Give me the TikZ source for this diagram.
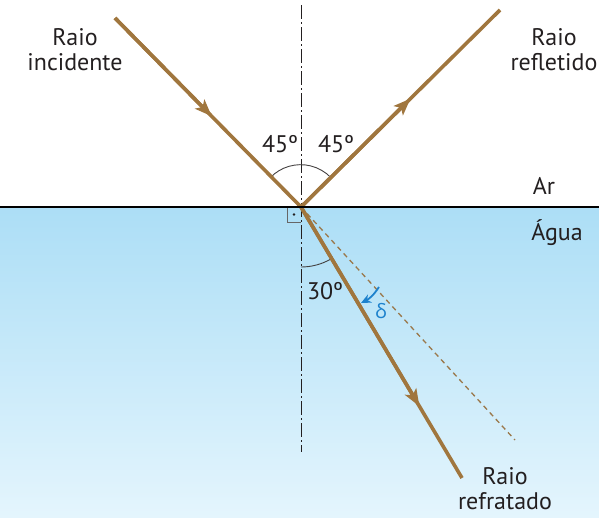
\documentclass[tikz,border=0pt]{standalone}
\usepackage{fontspec}
\setmainfont{PT Sans}
\newfontfamily\grk{Open Sans}
\usetikzlibrary{arrows.meta,calc}
\definecolor{ray}{RGB}{160,118,62}
\definecolor{txt}{RGB}{35,31,32}
\definecolor{wtop}{RGB}{172,222,246}
\definecolor{wbot}{RGB}{228,245,253}
\definecolor{dblue}{RGB}{30,130,205}
\tikzset{
  raylin/.style={draw=ray,line width=3.6pt},
  midarrow/.style={-{Stealth[length=17pt,width=13pt,inset=4pt]},draw=ray,line width=3.6pt},
  lbl/.style={text=txt,font=\fontsize{24}{25}\selectfont,align=center,inner sep=0pt},
  anglbl/.style={text=txt,font=\fontsize{24}{25}\selectfont,inner sep=0pt},
  arcst/.style={draw=txt!85,line width=0.9pt},
}
\begin{document}
\begin{tikzpicture}[x=1pt,y=-1pt]
\useasboundingbox (0,0) rectangle (599,517);
\shade[top color=wtop,bottom color=wbot] (0,207) rectangle (599,517);
% coordinates
\coordinate (O) at (301,207);
\coordinate (I) at (115,18);
\coordinate (R) at (500,10);
\coordinate (T) at (462,478);
\coordinate (D) at (515,440);
\coordinate (NT) at (301,5);
\coordinate (NB) at (301,452);
% normal
\draw[txt,line width=0.9pt,dash pattern=on 14pt off 3pt on 2pt off 3pt] (NT) -- (NB);
% dashed continuation
\draw[ray!80!gray,line width=1.3pt,dash pattern=on 5pt off 4pt] (O) -- (D);
% right angle mark
\draw[gray!80!black,line width=1pt] (287,207) |- (301,222);
\fill[txt] (294,214.5) circle (1.3pt);
% angle arcs
\draw[arcst] ($(O)+(-30.6,-29.5)$) arc[start angle=-136,end angle=-44,radius=42];
\draw[arcst] ($(O)+(0,60)$) arc[start angle=90,end angle=60,radius=60];
% rays
\draw[raylin] (I) -- (O);
\draw[raylin] (O) -- (R);
\draw[raylin] (O) -- (T);
\draw[midarrow] (I) -- ($(I)!0.52!(O)$);
\draw[midarrow] (O) -- ($(O)!0.55!(R)$);
\draw[midarrow] (O) -- ($(O)!0.735!(T)$);
% surface line
\draw[black,line width=2.4pt] (0,207) -- (599,207);
% delta arrow
\draw[dblue,line width=1.8pt,-{Stealth[length=10pt,width=9pt]}] (379,287) to[bend left=15] (361,303);
\node[text=dblue,font=\grk\fontsize{20}{22}\selectfont,inner sep=0pt] (delta) at (381,311) {δ};
% labels
\node[lbl] (li) at (75,50) {Raio\\incidente};
\node[lbl] (lr) at (554,50) {Raio\\refletido};
\node[lbl] (lt) at (505,489) {Raio\\refratado};
\node[anglbl] (a1) at (280,144) {45º};
\node[anglbl] (a2) at (336,144) {45º};
\node[anglbl] (a3) at (325,291) {30º};
\node[anglbl] (ar) at (544,186) {Ar};
\node[anglbl] (ag) at (557,233) {Água};
\end{tikzpicture}
\end{document}
